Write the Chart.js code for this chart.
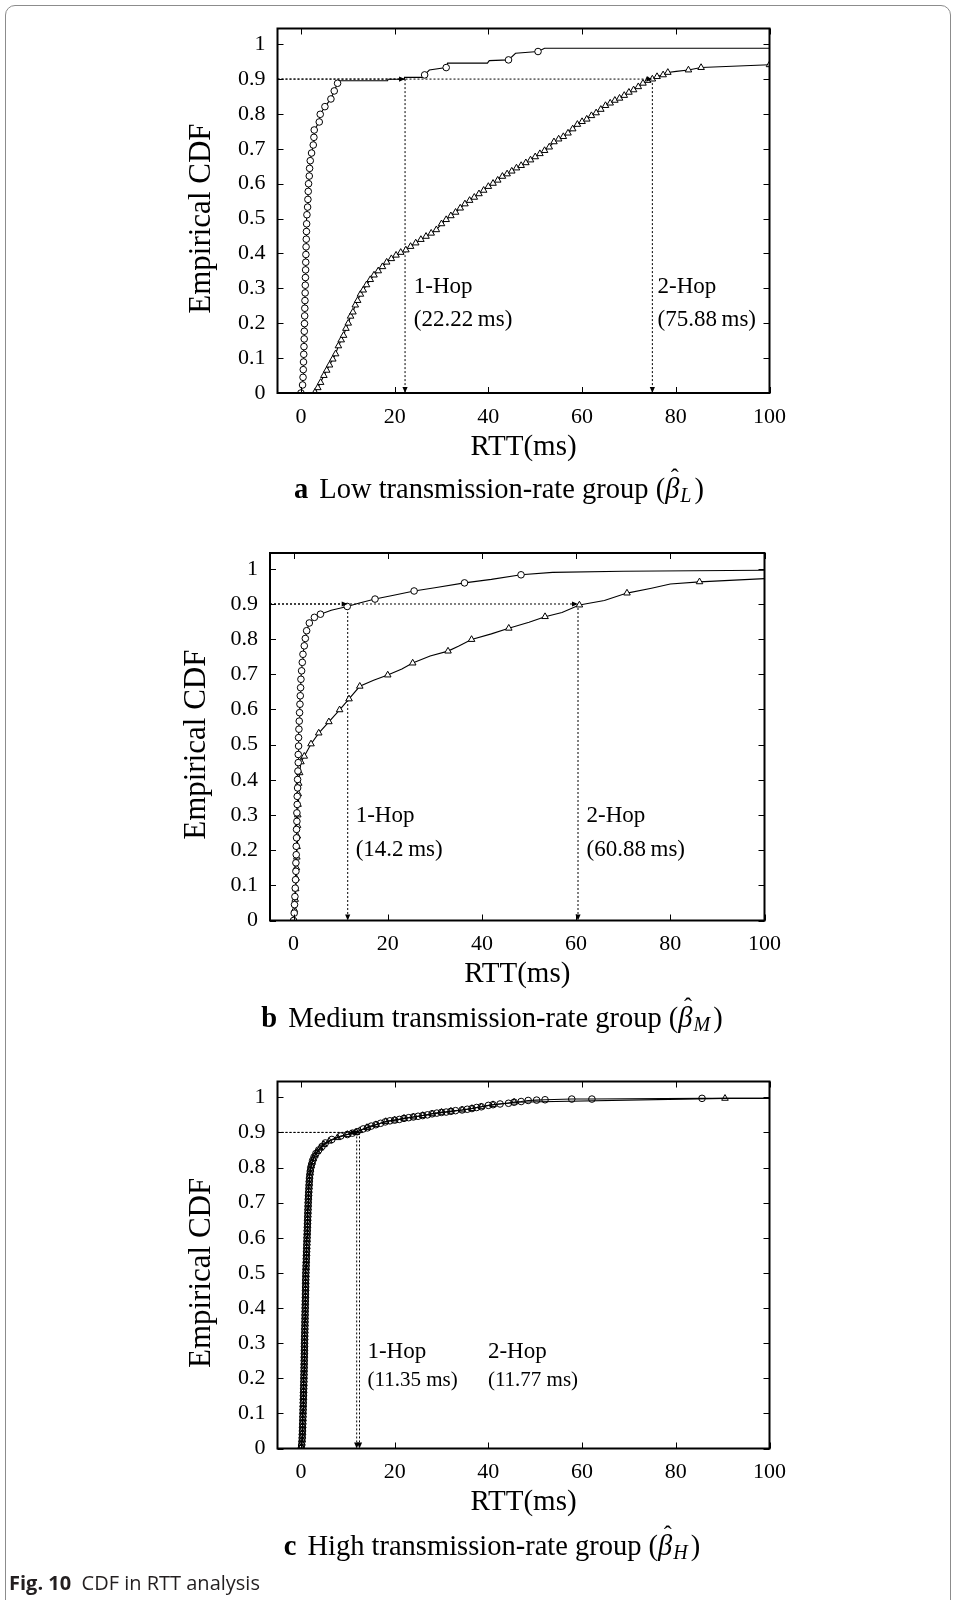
<!DOCTYPE html>
<html><head><meta charset="utf-8">
<script src="https://cdn.jsdelivr.net/npm/chart.js@4.4.1/dist/chart.umd.min.js"></script>
<style>
html,body{margin:0;padding:0;background:#fff;}
body{width:956px;height:1600px;position:relative;overflow:hidden;}
#frame{position:absolute;left:5px;top:5px;width:946px;height:1640px;border:1.5px solid #8c8c8c;border-radius:10px;box-sizing:border-box;}
canvas{position:absolute;left:0;}
#figcap{position:absolute;left:9px;top:1570px;font-family:"Open Sans",sans-serif;font-size:20px;line-height:26px;color:#231f20;white-space:nowrap;}
#figcap b{font-weight:700;}
</style></head>
<body>
<div id="frame"></div>
<canvas id="ca" width="956" height="520" style="top:0px"></canvas>
<canvas id="cb" width="956" height="530" style="top:520px"></canvas>
<canvas id="cc" width="956" height="530" style="top:1050px"></canvas>
<div id="figcap"><b>Fig. 10</b>&nbsp; CDF in RTT analysis</div>
<script>
// ---------- tick labels ----------
const yTickValues = [0,0.1,0.2,0.3,0.4,0.5,0.6,0.7,0.8,0.9,1];
const yTickLabels = ['0','0.1','0.2','0.3','0.4','0.5','0.6','0.7','0.8','0.9','1'];
const xTickValues = [0,20,40,60,80,100];
const xTickLabels = ['0','20','40','60','80','100'];
const xTitle = 'RTT(ms)';
const yTitle = 'Empirical CDF';

// ---------- panel a : low transmission-rate group ----------
const aHop1X = [0,0.35,0.45,0.5,0.55,0.6,0.65,0.7,0.72,0.76, 0.8,0.83,0.86,0.9,0.93,0.96,1.0,1.03,1.06,1.1,
  1.14,1.18,1.22,1.28,1.42,1.49,1.56,1.63,1.78,1.85, 1.99,2.27,2.63,2.77,2.84,3.91,4.12,5.12,6.40,7.11,
  7.82,8.2,18.5,18.6,22.0,22.1,25.9,26.4,27.4,31.0,31.3,39.8,40.2,44.3,45.8,50.6,52.0,100];
const aHop1Y = [0,0.023,0.045,0.067,0.089,0.111,0.133,0.155,0.177,0.199, 0.221,0.243,0.265,0.287,0.309,0.331,0.353,0.375,0.397,0.419,
  0.441,0.463,0.485,0.511,0.533,0.555,0.578,0.600,0.622,0.644, 0.666,0.688,0.711,0.733,0.754,0.777,0.799,0.821,0.843,0.866,
  0.888,0.895,0.895,0.8997,0.8997,0.905,0.905,0.912,0.926,0.933,0.9456,0.9456,0.953,0.955,0.974,0.979,0.9885,0.9885];
const aHop1Mark = [1,1,1,1,1,1,1,1,1,1, 1,1,1,1,1,1,1,1,1,1, 1,1,1,1,1,1,1,1,1,1, 1,1,1,1,1,1,1,1,1,1,
  1,0,0,0,0,0,0,1,0,1,0,0,0,1,0,1,0,0];
const aHop2X = [3.0,3.6,4.2,4.9,5.5,6.1,6.8,7.4,8.0,8.6, 9.1,9.6,10.1,10.6,11.1,11.6,12.1,12.7,13.3,14.0,
  14.8,15.6,16.5,17.4,18.3,19.3,20.3,21.3,22.4,23.4, 24.5,25.6,26.7,27.8,28.9,30.0,31.0,32.0,33.0,34.0,
  35.0,36.0,37.0,38.0,39.0,40.0,41.0,42.0,43.0,44.0, 45.0,46.0,47.0,48.0,49.0,50.0,51.0,52.0,53.0,54.0,
  55.0,56.0,57.0,58.0,59.0,60.0,61.0,62.0,63.0,64.0, 65.0,66.0,67.0,68.0,69.0,70.0,71.0,72.0,73.0,74.0,
  75.0,76.0,77.3,78.3,80.1,82.7,85.4,100];
const aHop2Y = [0.002,0.015,0.03,0.05,0.065,0.08,0.097,0.112,0.135,0.152, 0.165,0.185,0.2,0.22,0.232,0.252,0.265,0.283,0.295,0.31,
  0.325,0.338,0.35,0.362,0.375,0.385,0.395,0.403,0.41,0.42, 0.43,0.44,0.449,0.458,0.468,0.485,0.497,0.508,0.518,0.53,
  0.542,0.552,0.561,0.571,0.581,0.592,0.601,0.61,0.621,0.628, 0.636,0.645,0.652,0.66,0.668,0.677,0.686,0.695,0.705,0.72,
  0.728,0.735,0.745,0.757,0.77,0.778,0.785,0.795,0.803,0.813, 0.824,0.831,0.839,0.845,0.853,0.862,0.869,0.878,0.888,0.896,
  0.9,0.907,0.912,0.919,0.922,0.926,0.933,0.941];
const aHop2Mark = aHop2X.map(x => x === 80.1 ? 0 : 1);
const aHopArrowX = [22.22, 75.0];
const aNotes = ['1-Hop','(22.22\u2009ms)','2-Hop','(75.88\u2009ms)'];

// ---------- panel b : medium transmission-rate group ----------
const bHop1X = [0,0.14,0.21,0.29,0.36,0.43,0.5,0.5,0.57,0.57,0.64, 0.64,0.71,0.71,0.78,0.78,0.86,0.86,0.93,1.0,1.0,
  1.07,1.07,1.14,1.21,1.28,1.36,1.43,1.5,1.57,1.71, 1.86,2.0,2.28,2.5,2.78,3.35,4.43,5.71,
  8.0,11.4,14.0,17.3,21.0,25.6,30.0,36.3,42.0,48.3,55.0,70.0,100];
const bHop1Y = [0,0.021,0.045,0.068,0.092,0.116,0.140,0.164,0.187,0.211,0.235, 0.259,0.282,0.306,0.330,0.353,0.377,0.401,0.425,0.449,0.472,
  0.496,0.52,0.544,0.567,0.591,0.615,0.639,0.662,0.686,0.710, 0.734,0.757,0.781,0.802,0.824,0.846,0.862,0.871,
  0.882,0.893,0.903,0.914,0.924,0.937,0.946,0.960,0.970,0.983,0.99,0.993,0.996];
const bHop1Mark = [1,1,1,1,1,1,1,1,1,1,1, 1,1,1,1,1,1,1,1,1,1, 1,1,1,1,1,1,1,1,1,1, 1,1,1,1,1,1,1,1,
  0,1,0,1,0,1,0,1,0,1,0,0,0];
const bHop2X = [0,0.2,0.35,0.45,0.55,0.6,0.7,0.75,0.8,0.85,0.9, 0.95,1.0,1.1,1.3,1.57,
  2.28,3.71,5.35,7.5,9.78,11.78,14.06,
  17.0,20.0,23.0,25.3,29.0,32.8,35.0,37.8,42.0,45.7,50.0,53.4,57.0,60.7,66.0,70.8,76.0,80.0,86.2,100];
const bHop2Y = [0,0.03,0.06,0.09,0.12,0.15,0.18,0.21,0.24,0.27,0.30, 0.33,0.36,0.39,0.42,0.451,
  0.467,0.502,0.533,0.565,0.599,0.630,0.666,
  0.683,0.698,0.715,0.732,0.752,0.766,0.78,0.799,0.815,0.831,0.848,0.864,0.876,0.897,0.91,0.931,0.945,0.957,0.963,0.972];
const bHop2Mark = [1,1,1,1,1,1,1,1,1,1,1, 1,1,1,1,1, 1,1,1,1,1,1,1,
  0,1,0,1,0,1,0,1,0,1,0,1,0,1,0,1,0,0,1,0];
const bHopArrowX = [11.5, 60.4];
const bNotes = ['1-Hop','(14.2\u2009ms)','2-Hop','(60.88\u2009ms)'];

// ---------- panel c : high transmission-rate group ----------
const cHop1X = [0.05,0.15,0.22,0.27,0.3,0.33,0.35,0.38,0.4,0.42, 0.44,0.46,0.48,0.5,0.52,0.54,0.56,0.58,0.6,0.62,
  0.63,0.65,0.66,0.68,0.69,0.71,0.72,0.74,0.75,0.76, 0.77,0.79,0.8,0.82,0.83,0.85,0.86,0.87,0.88,0.9,
  0.91,0.93,0.94,0.96,0.97,0.99,1.0,1.01,1.02,1.04, 1.05,1.08,1.1,1.13,1.15,1.18,1.2,1.23,1.25,1.28,
  1.3,1.33,1.35,1.38,1.4,1.43,1.45,1.48,1.5,1.53, 1.55,1.58,1.62,1.66,1.7,1.74,1.78,1.83,1.9,2.0,
  2.1,2.3,2.5,2.8,3.2,3.8,4.5,5.2,6.6,
  8.5,9.9,11.0,12.0,13.3,14.2,15.0,16.0,17.0,18.0, 19.0,20.0,21.0,22.0,23.0,24.0,25.0,26.0,27.0,28.0,
  29.0,30.0,31.0,32.0,33.0,34.4,35.5,36.5,37.5,38.5, 40.0,41.0,42.5,44.3,45.5,47.0,48.5,50.3,52.1,57.8,
  62.1,85.6,100];
const cHop1Y = [0,0.01,0.02,0.03,0.04,0.05,0.06,0.07,0.08,0.09, 0.10,0.11,0.12,0.13,0.14,0.15,0.16,0.17,0.18,0.19,
  0.20,0.21,0.22,0.23,0.24,0.25,0.26,0.27,0.28,0.29, 0.30,0.31,0.32,0.33,0.34,0.35,0.36,0.37,0.38,0.39,
  0.40,0.41,0.42,0.43,0.44,0.45,0.46,0.47,0.48,0.49, 0.50,0.51,0.52,0.53,0.54,0.55,0.56,0.57,0.58,0.59,
  0.60,0.61,0.62,0.63,0.64,0.65,0.66,0.67,0.68,0.69, 0.70,0.71,0.72,0.73,0.74,0.75,0.76,0.77,0.78,0.79,
  0.80,0.81,0.82,0.83,0.84,0.85,0.86,0.87,0.88,
  0.89,0.894,0.898,0.902,0.91,0.913,0.918,0.922,0.926,0.93, 0.933,0.935,0.937,0.94,0.942,0.944,0.946,0.948,0.95,0.953,
  0.955,0.957,0.958,0.96,0.962,0.964,0.966,0.968,0.971,0.973, 0.977,0.979,0.981,0.983,0.986,0.988,0.991,0.992,0.993,0.995,
  0.995,0.997,0.997];
const cHop1Mark = cHop1X.map(x => x === 100 ? 0 : 1);
const cHop2X = [0.1,0.19,0.25,0.29,0.32,0.34,0.37,0.39,0.41,0.43, 0.45,0.47,0.49,0.51,0.53,0.55,0.57,0.59,0.61,0.63,
  0.64,0.66,0.67,0.69,0.7,0.72,0.73,0.75,0.76,0.77, 0.78,0.8,0.81,0.83,0.84,0.86,0.87,0.88,0.89,0.91,
  0.92,0.94,0.95,0.97,0.98,1.0,1.01,1.02,1.03,1.05, 1.07,1.09,1.12,1.14,1.17,1.19,1.22,1.24,1.27,1.29,
  1.32,1.34,1.37,1.39,1.42,1.44,1.47,1.49,1.52,1.54, 1.57,1.6,1.64,1.68,1.72,1.76,1.8,1.86,1.95,2.05,
  2.2,2.4,2.65,3.0,3.5,4.1,4.9,6.0,
  7.8,9.9,11.77,12.5,14.1,16.0,18.1,20.0,22.0,24.0, 26.0,28.0,30.0,32.0,34.4,36.5,38.5,41.0,45.5,90.5,100];
const cHop2Y = [0.005,0.015,0.025,0.035,0.045,0.055,0.065,0.075,0.085,0.095, 0.105,0.115,0.125,0.135,0.145,0.155,0.165,0.175,0.185,0.195,
  0.205,0.215,0.225,0.235,0.245,0.255,0.265,0.275,0.285,0.295, 0.305,0.315,0.325,0.335,0.345,0.355,0.365,0.375,0.385,0.395,
  0.405,0.415,0.425,0.435,0.445,0.455,0.465,0.475,0.485,0.495, 0.505,0.515,0.525,0.535,0.545,0.555,0.565,0.575,0.585,0.595,
  0.605,0.615,0.625,0.635,0.645,0.655,0.665,0.675,0.685,0.695, 0.705,0.715,0.725,0.735,0.745,0.755,0.765,0.775,0.785,0.795,
  0.805,0.815,0.825,0.835,0.845,0.855,0.865,0.875,
  0.885,0.894,0.9,0.905,0.914,0.922,0.931,0.935,0.94,0.944, 0.948,0.953,0.957,0.96,0.964,0.968,0.973,0.979,0.986,0.997,0.997];
const cHop2Mark = cHop2X.map(x => x === 100 ? 0 : 1);
const cHopArrowX = [11.9, 12.5];
const cNotes = ['1-Hop','(11.35 ms)','2-Hop','(11.77 ms)'];

const captions = [
  {letter:'a', text:'Low transmission-rate group', sub:'L'},
  {letter:'b', text:'Medium transmission-rate group', sub:'M'},
  {letter:'c', text:'High transmission-rate group', sub:'H'}
];

// ---------- drawing ----------
const SERIF = '"Liberation Serif", "DejaVu Serif", serif';
const X_MIN = -5, X_MAX = 100, Y_MIN = 0, Y_MAX = 1.045;

function pts(X, Y) { return X.map((x, i) => ({x: x, y: Y[i]})); }

function head(ctx, tx, ty, dx, dy) {
  const len = 6, hw = 2.6;
  const bx = tx - dx * len, by = ty - dy * len;
  ctx.beginPath();
  ctx.moveTo(tx, ty);
  ctx.lineTo(bx - dy * hw, by + dx * hw);
  ctx.lineTo(bx + dy * hw, by - dx * hw);
  ctx.closePath();
  ctx.fill();
}

function drawCaption(ctx, cap, cx, cy) {
  const size = 28.5;
  const parts = [
    {t: cap.letter, f: 'bold ' + size + 'px ' + SERIF, dy: 0, after: 11},
    {t: cap.text + ' (', f: size + 'px ' + SERIF, dy: 0},
    {t: '\u03B2', f: 'italic ' + size + 'px ' + SERIF, dy: 0, hat: true, after: 1},
    {t: cap.sub, f: 'italic ' + Math.round(size * 0.7) + 'px ' + SERIF, dy: 6, after: 3},
    {t: ')', f: size + 'px ' + SERIF, dy: 0}
  ];
  let total = 0;
  parts.forEach(p => { ctx.font = p.f; p.w = ctx.measureText(p.t).width; total += p.w + (p.after || 0); });
  let x = cx - total / 2;
  ctx.fillStyle = '#000';
  ctx.textBaseline = 'middle';
  ctx.textAlign = 'left';
  parts.forEach(p => {
    ctx.font = p.f;
    ctx.fillText(p.t, x, cy + p.dy);
    if (p.hat) {
      ctx.save();
      ctx.font = Math.round(size * 0.85) + 'px ' + SERIF;
      ctx.textAlign = 'center';
      ctx.fillText('\u02C6', x + p.w / 2 + 2.5, cy - size * 0.42);
      ctx.restore();
    }
    x += p.w + (p.after || 0);
  });
}

function makeDecor(p) {
  return {
    id: 'decor_' + p.id,
    afterDatasetsDraw(chart) {
      const ctx = chart.ctx, xs = chart.scales.x, ys = chart.scales.y;
      ctx.save();
      ctx.fillStyle = '#000';
      p.hops.forEach(h => {
        const px = xs.getPixelForValue(h);
        head(ctx, px, ys.getPixelForValue(0), 0, 1);
        head(ctx, px, ys.getPixelForValue(0.9), 1, 0);
      });
      ctx.restore();
    },
    afterDraw(chart) {
      const ctx = chart.ctx, ca = chart.chartArea, xs = chart.scales.x, ys = chart.scales.y;
      ctx.save();
      ctx.strokeStyle = '#000';
      ctx.lineWidth = 1;
      ctx.beginPath();
      xTickValues.forEach(v => {
        const px = Math.round(xs.getPixelForValue(v)) + 0.5;
        ctx.moveTo(px, ca.bottom); ctx.lineTo(px, ca.bottom - 6);
        ctx.moveTo(px, ca.top); ctx.lineTo(px, ca.top + 6);
      });
      yTickValues.forEach(v => {
        const py = Math.round(ys.getPixelForValue(v)) + 0.5;
        ctx.moveTo(ca.left, py); ctx.lineTo(ca.left + 6, py);
        ctx.moveTo(ca.right, py); ctx.lineTo(ca.right - 6, py);
      });
      ctx.stroke();
      ctx.lineWidth = 2;
      ctx.strokeRect(ca.left, ca.top, ca.right - ca.left, ca.bottom - ca.top);
      ctx.fillStyle = '#000';
      ctx.textAlign = 'center';
      ctx.textBaseline = 'middle';
      ctx.font = '29px ' + SERIF;
      ctx.fillText(xTitle, (ca.left + ca.right) / 2, ca.bottom + 54);
      ctx.save();
      ctx.translate(ca.left - p.yTitleOff, ys.getPixelForValue(0.5));
      ctx.rotate(-Math.PI / 2);
      ctx.font = '31px ' + SERIF;
      ctx.fillText(yTitle, 0, 0);
      ctx.restore();
      ctx.textAlign = 'left';
      p.notePos.forEach((np, i) => {
        ctx.font = np.size + 'px ' + SERIF;
        ctx.fillText(p.notes[i], xs.getPixelForValue(np.x), ys.getPixelForValue(np.y));
      });
      drawCaption(ctx, p.caption, p.capX, p.capY);
      ctx.restore();
    }
  };
}

function makeChart(p) {
  const el = document.getElementById(p.id);
  const H = el.height, AXW = 60, AXH = 40;
  const datasets = [
    {data: pts(p.h1x, p.h1y), showLine: true, borderColor: '#000', borderWidth: 1.1,
     pointStyle: 'circle', pointRadius: c => p.h1m[c.dataIndex] ? 3.3 : 0,
     pointBackgroundColor: p.fill, pointBorderColor: '#000', pointBorderWidth: 1},
    {data: pts(p.h2x, p.h2y), showLine: true, borderColor: '#000', borderWidth: 1.1,
     pointStyle: 'triangle', pointRadius: c => p.h2m[c.dataIndex] ? 3.8 : 0,
     pointBackgroundColor: p.fill, pointBorderColor: '#000', pointBorderWidth: 1}
  ];
  p.hops.forEach(h => {
    datasets.push({data: [{x: X_MIN, y: 0.9}, {x: h, y: 0.9}], showLine: true, borderColor: '#000',
      borderWidth: 1, borderDash: [2, 2], pointRadius: 0});
    datasets.push({data: [{x: h, y: 0.9}, {x: h, y: 0}], showLine: true, borderColor: '#000',
      borderWidth: 1, borderDash: [2, 2], pointRadius: 0});
  });
  const tickFont = {family: SERIF, size: 22};
  new Chart(el, {
    type: 'scatter',
    data: {datasets: datasets},
    options: {
      responsive: false, animation: false, devicePixelRatio: 1, events: [],
      layout: {padding: {left: p.L - AXW, right: 956 - p.R, top: p.T, bottom: H - p.B - AXH}},
      plugins: {legend: {display: false}, tooltip: {enabled: false}},
      scales: {
        x: {type: 'linear', position: 'bottom', min: X_MIN, max: X_MAX,
            grid: {display: false, drawTicks: false}, border: {display: false},
            afterBuildTicks: s => { s.ticks = xTickValues.map(v => ({value: v})); },
            afterFit: s => { s.height = AXH; },
            ticks: {autoSkip: false, maxRotation: 0, padding: 11, font: tickFont, color: '#000',
                    callback: (v, i) => xTickLabels[i]}},
        y: {type: 'linear', position: 'left', min: Y_MIN, max: Y_MAX,
            grid: {display: false, drawTicks: false}, border: {display: false},
            afterBuildTicks: s => { s.ticks = yTickValues.map(v => ({value: v})); },
            afterFit: s => { s.width = AXW; },
            ticks: {autoSkip: false, padding: 12, font: tickFont, color: '#000',
                    callback: (v, i) => yTickLabels[i]}}
      }
    },
    plugins: [makeDecor(p)]
  });
}

makeChart({id: 'ca', L: 277.5, R: 769.5, T: 28.5, B: 393, fill: '#fff',
  h1x: aHop1X, h1y: aHop1Y, h1m: aHop1Mark, h2x: aHop2X, h2y: aHop2Y, h2m: aHop2Mark,
  hops: aHopArrowX, notes: aNotes, yTitleOff: 76,
  notePos: [{x: 24.1, y: 0.305, size: 23}, {x: 24.1, y: 0.209, size: 23}, {x: 76.1, y: 0.305, size: 23}, {x: 76.1, y: 0.209, size: 23}],
  caption: captions[0], capX: 499, capY: 491});
makeChart({id: 'cb', L: 270, R: 764.5, T: 33, B: 400.5, fill: '#fff',
  h1x: bHop1X, h1y: bHop1Y, h1m: bHop1Mark, h2x: bHop2X, h2y: bHop2Y, h2m: bHop2Mark,
  hops: bHopArrowX, notes: bNotes, yTitleOff: 73,
  notePos: [{x: 13.2, y: 0.296, size: 23}, {x: 13.2, y: 0.2, size: 23}, {x: 62.2, y: 0.296, size: 23}, {x: 62.2, y: 0.2, size: 23}],
  caption: captions[1], capX: 492, capY: 500});
makeChart({id: 'cc', L: 277.5, R: 769.5, T: 31.5, B: 398.5, fill: 'rgba(255,255,255,0)',
  h1x: cHop1X, h1y: cHop1Y, h1m: cHop1Mark, h2x: cHop2X, h2y: cHop2Y, h2m: cHop2Mark,
  hops: cHopArrowX, notes: cNotes, yTitleOff: 76,
  notePos: [{x: 14.2, y: 0.274, size: 23}, {x: 14.2, y: 0.193, size: 21}, {x: 39.9, y: 0.274, size: 23}, {x: 39.9, y: 0.193, size: 21}],
  caption: captions[2], capX: 492, capY: 498});
</script>
</body></html>
